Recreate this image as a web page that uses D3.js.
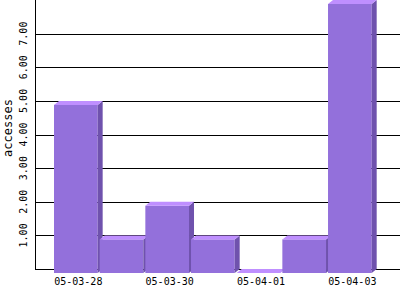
<!DOCTYPE html>
<html>
<head>
<meta charset="utf-8">
<script src="https://cdn.jsdelivr.net/npm/d3@7"></script>
<style>
  body { margin: 0; background: #fff; }
  svg { display: block; }
  text { font-family: "DejaVu Sans Mono", monospace; fill: #000; }
</style>
</head>
<body>
<svg id="chart" width="400" height="300"></svg>
<script>
// data
var days = ['05-03-28', '05-03-29', '05-03-30', '05-03-31', '05-04-01', '05-04-02', '05-04-03'];
var accesses = [5, 1, 2, 1, 0, 1, 8];
var yTicks = [1, 2, 3, 4, 5, 6, 7];
var xLabels = ['05-03-28', '05-03-30', '05-04-01', '05-04-03'];

var svg = d3.select('#chart');
var plotLeft = 35, plotBase = 269, plotTop = 0;
var dx = 5, dy = 4; // fake 3d depth

var x = d3.scaleBand().domain(days).range([54, 54 + 7 * 45.67]).paddingInner(0);
var y = d3.scaleLinear().domain([0, 8]).range([plotBase, plotTop]);

// grid lines
svg.append('g')
  .selectAll('line')
  .data(yTicks)
  .join('line')
    .attr('x1', plotLeft).attr('x2', 400)
    .attr('y1', d => Math.round(y(d)) + 0.5)
    .attr('y2', d => Math.round(y(d)) + 0.5)
    .attr('stroke', '#000');

// axes
svg.append('line').attr('x1', plotLeft).attr('x2', 400)
  .attr('y1', plotBase + 0.5).attr('y2', plotBase + 0.5).attr('stroke', '#000');
svg.append('line').attr('x1', plotLeft + 0.5).attr('x2', plotLeft + 0.5)
  .attr('y1', 0).attr('y2', plotBase + 1).attr('stroke', '#000');

// bars
var w = x.bandwidth() - 2;
var bars = svg.append('g')
  .selectAll('g')
  .data(days)
  .join('g');

bars.append('rect')
  .attr('x', d => x(d))
  .attr('y', (d, i) => y(accesses[i]) + dy)
  .attr('width', w)
  .attr('height', (d, i) => plotBase - y(accesses[i]))
  .attr('fill', '#9370db');

bars.append('path')
  .attr('d', (d, i) => {
    var x0 = x(d) + w, yt = y(accesses[i]);
    return 'M' + x0 + ',' + (yt + dy) + 'L' + (x0 + dx) + ',' + yt +
      'L' + (x0 + dx) + ',' + plotBase + 'L' + x0 + ',' + (plotBase + dy) + 'Z';
  })
  .attr('fill', '#6f52ad');

bars.append('path')
  .attr('d', (d, i) => {
    var x0 = x(d), yt = y(accesses[i]);
    return 'M' + x0 + ',' + (yt + dy) + 'L' + (x0 + dx) + ',' + yt +
      'L' + (x0 + w + dx) + ',' + yt + 'L' + (x0 + w) + ',' + (yt + dy) + 'Z';
  })
  .attr('fill', '#bf8fff');

// x labels, every other day
svg.append('g')
  .selectAll('text')
  .data(xLabels)
  .join('text')
    .attr('x', d => x(d) + (w + dx) / 2)
    .attr('y', 285)
    .attr('text-anchor', 'middle')
    .style('font-size', '10px')
    .text(d => d);

// y tick labels, rotated
svg.append('g')
  .selectAll('text')
  .data(yTicks)
  .join('text')
    .attr('transform', d => 'translate(27,' + y(d) + ') rotate(-90)')
    .attr('text-anchor', 'middle')
    .style('font-size', '10px')
    .text(d => d3.format('.2f')(d));

svg.append('text')
  .attr('transform', 'translate(12,128) rotate(-90)')
  .attr('text-anchor', 'middle')
  .style('font-size', '12px')
  .text('accesses');
</script>
</body>
</html>
